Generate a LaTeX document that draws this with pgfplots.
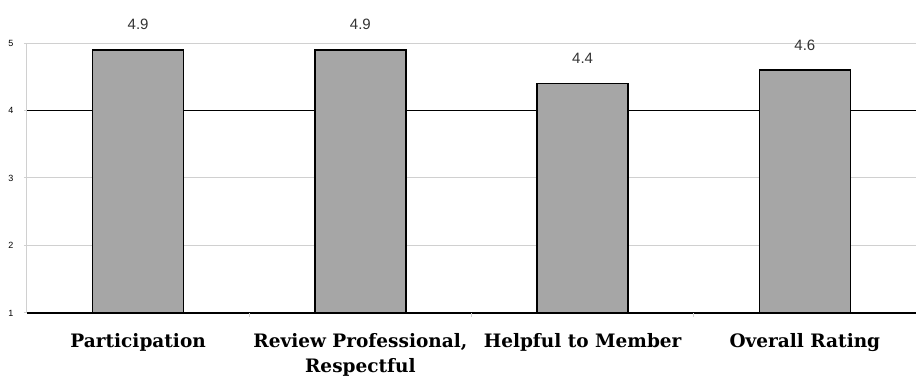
\documentclass[border=0pt]{standalone}
\usepackage{fontspec}
\setmainfont{Liberation Sans}
\newfontfamily\catfont{DejaVu Serif}
\usepackage{pgfplots}
\pgfplotsset{compat=1.18}
\definecolor{barfill}{HTML}{A6A6A6}
\definecolor{gridgray}{HTML}{D0D0D0}

\begin{document}
\begin{tikzpicture}[x=1pt,y=1pt]
\begin{axis}[
  at={(27pt,67pt)}, anchor=south west,
  scale only axis, width=889pt, height=270pt,
  ybar, bar width=91pt,
  xmin=-0.5, xmax=3.5, ymin=1, ymax=5,
  /pgf/number format/assume math mode=true,
  axis lines=left, axis line style={-},
  x axis line style={black, line width=1.6pt},
  y axis line style={gridgray, line width=1pt},
  xtick={0,1,2,3},
  xticklabels={Participation,{Review Professional,\\Respectful},Helpful to Member,Overall Rating},
  xticklabel style={font=\catfont\bfseries\fontsize{18.5}{25}\selectfont, align=center, anchor=north, inner sep=0pt, yshift=-17pt},
  xtick style={draw=none},
  extra x ticks={0.5,1.5,2.5}, extra x tick labels={},
  extra x tick style={xtick style={draw=gridgray, line width=1pt}, tick align=outside, major tick length=4pt},
  ytick={1,2,3,4,5},
  yticklabel style={font=\fontsize{9}{10}\selectfont, xshift=-7pt},
  ytick style={draw=gridgray, line width=1pt}, tick align=outside, major tick length=3pt,
  ymajorgrids, grid style={gridgray, line width=1pt},
  extra y ticks={4}, extra y tick labels={},
  extra y tick style={ymajorgrids, major grid style={black, line width=1.6pt}, ytick style={draw=none}},
  nodes near coords={\pgfmathprintnumber[fixed,precision=1]{\pgfplotspointmeta}},
  every node near coord/.append style={font=\fontsize{15}{18}\selectfont, anchor=center, yshift=25pt, text=black!80},
]
\addplot[fill=barfill, draw=black, line width=1.6pt] coordinates {(0,4.9) (1,4.9) (2,4.4) (3,4.6)};
\end{axis}
\pgfresetboundingbox
\path (0,0) rectangle (916,380);
\end{tikzpicture}
\end{document}
